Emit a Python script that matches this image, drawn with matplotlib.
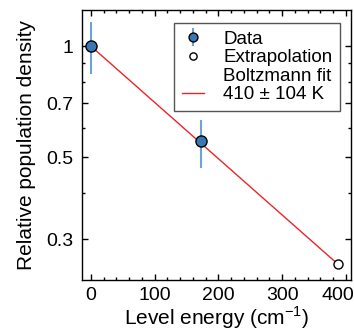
import matplotlib
matplotlib.use("Agg")
import matplotlib.pyplot as plt
import matplotlib.transforms as mtransforms
import numpy as np
from matplotlib.lines import Line2D
from matplotlib.ticker import FixedLocator, MultipleLocator, FixedFormatter

plt.rcParams['font.family'] = ['Liberation Sans', 'DejaVu Sans']

# Data
energy = [0, 172]
density = [1.0, 0.552]
density_err_low = [0.16, 0.085]
density_err_high = [0.16, 0.08]
extrap_energy = [388]
extrap_density = [0.257]
fit_T = 410
fit_T_err = 104
y_major = [0.3, 0.5, 0.7, 1.0]
y_major_labels = ["0.3", "0.5", "0.7", "1"]
y_minor = [0.4, 0.6, 0.8, 0.9]
x_major = [0, 100, 200, 300, 400]

fig = plt.figure(figsize=(3.54, 3.32), dpi=100)
ax = fig.add_axes([82 / 354, 1 - 280 / 332, 269 / 354, 270 / 332])

# fit line
E_fit = np.linspace(0, extrap_energy[0], 50)
n_fit = np.exp(-1.4388 * E_fit / fit_T)
fit_line, = ax.plot(E_fit, n_fit, color='#e8262a', lw=1.0, zorder=2)

eb = ax.errorbar(energy, density, yerr=[density_err_low, density_err_high],
                 fmt='o', ms=8, mfc='#3a78b5', mec='black', mew=1.0,
                 ecolor='#6ea3d4', elinewidth=1.5, capsize=0, zorder=3)
ext, = ax.plot(extrap_energy, extrap_density, 'o', ms=6.5, mfc='white',
               mec='black', mew=1.0, zorder=3)

ax.set_yscale('log')
ax.set_xlim(-14, 408)
ax.set_ylim(0.2326, 1.253)

ax.yaxis.set_major_locator(FixedLocator(y_major))
ax.yaxis.set_major_formatter(FixedFormatter(y_major_labels))
ax.yaxis.set_minor_locator(FixedLocator(y_minor))
ax.yaxis.set_minor_formatter(FixedFormatter([""] * len(y_minor)))
ax.xaxis.set_major_locator(FixedLocator(x_major))
ax.xaxis.set_minor_locator(MultipleLocator(20))

ax.tick_params(which='both', direction='in', top=True, right=True,
               labelsize=14, width=1.0)
ax.tick_params(which='major', length=4.5)
ax.tick_params(axis='x', which='major', pad=5)
ax.tick_params(axis='y', which='major', pad=6)
ax.tick_params(which='minor', length=2.5)
for s in ax.spines.values():
    s.set_linewidth(1.0)

# shift last x tick label slightly left so it fits
fig.canvas.draw()
xlabels = ax.get_xticklabels()
if xlabels:
    off = mtransforms.ScaledTranslation(-8 / 100, 0, fig.dpi_scale_trans)
    xlabels[-1].set_transform(xlabels[-1].get_transform() + off)

ax.set_xlabel(r'Level energy (cm$^{\mathregular{-1}}$)', fontsize=15, labelpad=0.5)
ax.set_ylabel('Relative population density', fontsize=15, labelpad=7.5)

blank = Line2D([], [], linestyle='none', marker=None)
handles = [eb, ext, blank, fit_line]
labels = ['Data', 'Extrapolation', 'Boltzmann fit',
          f'{fit_T} \u00b1 {fit_T_err} K']
leg = ax.legend(handles, labels, loc='upper right', fontsize=13.5,
                frameon=True, fancybox=False, framealpha=1,
                edgecolor='#555555', handlelength=1.2, handletextpad=1.0,
                labelspacing=0.08, borderpad=0.4, borderaxespad=0,
                markerscale=0.8,
                bbox_to_anchor=(0.959, 0.952))
leg.get_frame().set_linewidth(1.0)

fig.savefig('out.png', dpi=100)
